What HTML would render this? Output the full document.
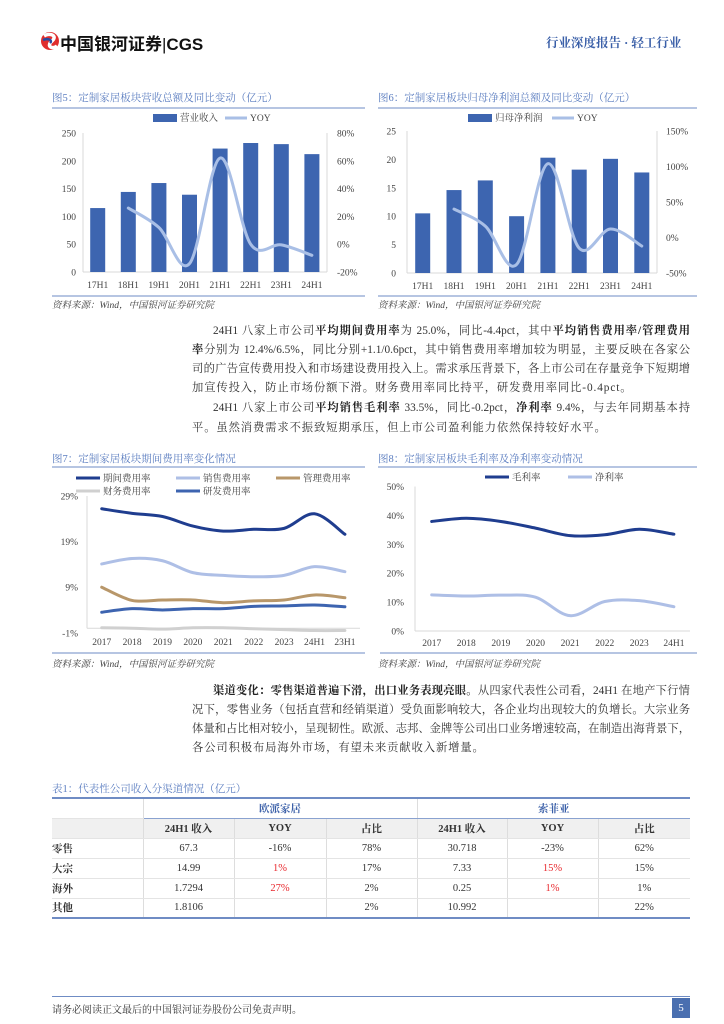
<!DOCTYPE html>
<html><head><meta charset="utf-8">
<style>
*{margin:0;padding:0;box-sizing:border-box}
body{width:724px;height:1024px;background:#fff;position:relative;overflow:hidden;font-family:"Liberation Serif","Noto Serif CJK SC",serif;color:#333}
.abs{position:absolute;white-space:nowrap}
.ttl{font-size:10.5px;color:#5b7dc0;font-family:"Liberation Serif","Noto Serif CJK SC",serif}
.src{font-size:9.5px;color:#444;font-style:italic}
.pl{position:absolute;font-size:11.3px;color:#333;text-align:justify;text-align-last:justify;white-space:nowrap;height:16px;line-height:16px}
.pl.last{text-align-last:left}
b{font-weight:bold;color:#222}
table{border-collapse:collapse;font-size:10.5px}
td{border-left:1px solid #ddd;border-bottom:1px solid #e4e4e4;text-align:center;height:20px;padding:0}
td:first-child{border-left:none;text-align:left;font-weight:bold}
.red{color:#e8282d}
</style></head><body>
<!-- header -->
<svg class="abs" style="left:40px;top:28px" width="20" height="26"><circle cx="10" cy="13" r="9" fill="#e02d2d"/><path d="M4 8 C10 4 18 8 12 13 C6 18 12 22 17 18" stroke="#fff" stroke-width="3.5" fill="none"/><path d="M3 12 C8 10 13 12 10 15" stroke="#2a4aa0" stroke-width="2.5" fill="none"/></svg>
<div class="abs" style="left:60px;top:30px;font-family:'Liberation Sans','Noto Sans CJK SC',sans-serif;font-weight:bold;font-size:17px;color:#111">中国银河证券<span style="font-weight:normal">|</span>CGS</div>
<div class="abs" style="left:546px;top:33px;font-size:12.5px;color:#3a5fa8;font-weight:bold">行业深度报告 · 轻工行业</div>

<!-- chart titles -->
<div class="abs ttl" style="left:52px;top:90px">图5：定制家居板块营收总额及同比变动（亿元）</div>
<div class="abs ttl" style="left:378px;top:90px">图6：定制家居板块归母净利润总额及同比变动（亿元）</div>
<div class="abs src" style="left:52px;top:297px">资料来源：Wind，中国银河证券研究院</div>
<div class="abs src" style="left:378px;top:297px">资料来源：Wind，中国银河证券研究院</div>
<div class="abs ttl" style="left:52px;top:451px">图7：定制家居板块期间费用率变化情况</div>
<div class="abs ttl" style="left:378px;top:451px">图8：定制家居板块毛利率及净利率变动情况</div>
<div class="abs src" style="left:52px;top:656px">资料来源：Wind，中国银河证券研究院</div>
<div class="abs src" style="left:378px;top:656px">资料来源：Wind，中国银河证券研究院</div>

<!-- paragraph 1 -->
<div>
<div class="pl" style="left:213px;top:323px;width:477px">24H1 八家上市公司<b>平均期间费用率</b>为 25.0%，同比-4.4pct，其中<b>平均销售费用率/管理费用</b></div>
<div class="pl" style="left:192px;top:342px;width:498px"><b>率</b>分别为 12.4%/6.5%，同比分别+1.1/0.6pct，其中销售费用率增加较为明显，主要反映在各家公</div>
<div class="pl" style="left:192px;top:361px;width:498px">司的广告宣传费用投入和市场建设费用投入上。需求承压背景下，各上市公司在存量竞争下短期增</div>
<div class="pl last" style="left:192px;top:380px;letter-spacing:0.9px">加宣传投入，防止市场份额下滑。财务费用率同比持平，研发费用率同比-0.4pct。</div>
<div class="pl" style="left:213px;top:400px;width:477px">24H1 八家上市公司<b>平均销售毛利率</b> 33.5%，同比-0.2pct，<b>净利率</b> 9.4%，与去年同期基本持</div>
<div class="pl last" style="left:192px;top:420px;letter-spacing:0.9px">平。虽然消费需求不振致短期承压，但上市公司盈利能力依然保持较好水平。</div>
</div>

<!-- paragraph 2 -->
<div>
<div class="pl" style="left:213px;top:683px;width:477px"><b>渠道变化：零售渠道普遍下滑，出口业务表现亮眼。</b>从四家代表性公司看，24H1 在地产下行情</div>
<div class="pl" style="left:192px;top:702px;width:498px">况下，零售业务（包括直营和经销渠道）受负面影响较大，各企业均出现较大的负增长。大宗业务</div>
<div class="pl" style="left:192px;top:721px;width:498px">体量和占比相对较小，呈现韧性。欧派、志邦、金牌等公司出口业务增速较高，在制造出海背景下，</div>
<div class="pl last" style="left:192px;top:740px;letter-spacing:0.9px">各公司积极布局海外市场，有望未来贡献收入新增量。</div>
</div>

<!-- table -->
<div class="abs ttl" style="left:52px;top:781px">表1：代表性公司收入分渠道情况（亿元）</div>
<table class="abs" style="left:52px;top:797px;width:638px;border-top:2px solid #6f8cc4;border-bottom:2px solid #6f8cc4">
<colgroup><col style="width:91px"><col style="width:91px"><col style="width:92px"><col style="width:91px"><col style="width:90px"><col style="width:91px"><col style="width:92px"></colgroup>
<tr style="border-bottom:1.5px solid #8aa2d0"><td></td><td colspan="3" style="color:#3a5fa8;font-weight:bold;border-bottom:1.5px solid #8aa2d0">欧派家居</td><td colspan="3" style="color:#3a5fa8;font-weight:bold;border-bottom:1.5px solid #8aa2d0">索菲亚</td></tr>
<tr style="background:#f0f0f0;font-weight:bold"><td></td><td>24H1 收入</td><td>YOY</td><td>占比</td><td>24H1 收入</td><td>YOY</td><td>占比</td></tr>
<tr><td>零售</td><td>67.3</td><td>-16%</td><td>78%</td><td>30.718</td><td>-23%</td><td>62%</td></tr>
<tr><td>大宗</td><td>14.99</td><td class="red">1%</td><td>17%</td><td>7.33</td><td class="red">15%</td><td>15%</td></tr>
<tr><td>海外</td><td>1.7294</td><td class="red">27%</td><td>2%</td><td>0.25</td><td class="red">1%</td><td>1%</td></tr>
<tr><td>其他</td><td>1.8106</td><td></td><td>2%</td><td>10.992</td><td></td><td>22%</td></tr>
</table>

<!-- footer -->
<div class="abs" style="left:52px;top:996px;width:638px;height:1px;background:#6f8cc4"></div>
<div class="abs" style="left:52px;top:1001px;font-size:10px;color:#333">请务必阅读正文最后的中国银河证券股份公司免责声明。</div>
<div class="abs" style="left:672px;top:998px;width:18px;height:20px;background:#4a6fb0;color:#fff;font-size:11px;text-align:center;line-height:20px">5</div>

<svg id="charts" class="abs" style="left:0;top:0" width="724" height="1024" font-family="Liberation Serif, Noto Serif CJK SC, serif" font-size="9.5" fill="#444"></svg>

<script>
// Fig5 data
const c5Cats = ["17H1","18H1","19H1","20H1","21H1","22H1","23H1","24H1"];
const c5Rev = [115,144,160,139,222,232,230,212];
const c5Yoy = [null,26,12,-14,62,0,-0.5,-8];
const c5LeftTicks = [0,50,100,150,200,250];
const c5RightTicks = [-20,0,20,40,60,80];
// Fig6 data
const c6Cats = ["17H1","18H1","19H1","20H1","21H1","22H1","23H1","24H1"];
const c6Profit = [10.5,14.6,16.3,10.0,20.3,18.2,20.1,17.7];
const c6Yoy = [null,40,16,-38,104,-15,12,-12];
const c6LeftTicks = [0,5,10,15,20,25];
const c6RightTicks = [-50,0,50,100,150];
// Fig7 data
const c7Cats = ["2017","2018","2019","2020","2021","2022","2023","24H1","23H1"];
const c7Period = [26.2,25.2,24.5,22.4,21.3,21.7,21.9,25.1,20.6];
const c7Sales = [14.1,15.3,14.8,12.2,11.6,11.3,11.6,13.5,12.4];
const c7Admin = [9.0,6.1,6.2,6.2,5.6,6.0,6.2,7.3,6.7];
const c7Fin = [0.1,0.0,-0.2,0.1,0.1,-0.1,-0.3,-0.5,-0.5];
const c7RD = [3.5,4.3,4.0,4.3,4.3,4.8,4.9,5.1,4.7];
const c7Ticks = [-1,9,19,29];
// Fig8 data
const c8Cats = ["2017","2018","2019","2020","2021","2022","2023","24H1"];
const c8Gross = [37.9,39.0,37.9,35.6,33.0,33.3,35.2,33.5];
const c8Net = [12.5,12.1,12.4,11.7,5.3,10.2,10.5,8.4];
const c8Ticks = [0,10,20,30,40,50];

const svg = document.getElementById('charts');
const NS = 'http://www.w3.org/2000/svg';
function mk(tag, attrs, parent){const e=document.createElementNS(NS,tag);for(const k in attrs)e.setAttribute(k,attrs[k]);(parent||svg).appendChild(e);return e;}
function txt(x,y,s,anchor,parent,extra){const t=mk('text',Object.assign({x:x,y:y,'text-anchor':anchor||'start'},extra||{}),parent);t.textContent=s;return t;}
function smooth(pts){let d='M'+pts[0][0]+' '+pts[0][1];for(let i=0;i<pts.length-1;i++){const p0=pts[i-1]||pts[i],p1=pts[i],p2=pts[i+1],p3=pts[i+2]||p2;const c1x=p1[0]+(p2[0]-p0[0])/6,c1y=p1[1]+(p2[1]-p0[1])/6,c2x=p2[0]-(p3[0]-p1[0])/6,c2y=p2[1]-(p3[1]-p1[1])/6;d+=' C'+c1x+' '+c1y+' '+c2x+' '+c2y+' '+p2[0]+' '+p2[1];}return d;}
function hline(x1,x2,y,c,w){mk('line',{x1:x1,x2:x2,y1:y,y2:y,stroke:c,'stroke-width':w||1});}
function vline(x,y1,y2,c){mk('line',{x1:x,x2:x,y1:y1,y2:y2,stroke:c,'stroke-width':1});}

// rules
hline(52,365,108,'#8aa2d0',1.2);hline(378,697,108,'#8aa2d0',1.2);
hline(52,365,296,'#8aa2d0',1.2);hline(378,697,296,'#8aa2d0',1.2);
hline(52,365,467,'#8aa2d0',1.2);hline(378,697,467,'#8aa2d0',1.2);
hline(52,365,653,'#8aa2d0',1.2);hline(380,697,653,'#8aa2d0',1.2);

function barLineChart(o){
  const g=mk('g',{});
  
  
  const yL=v=>o.y0-(v-o.lMin)/(o.lMax-o.lMin)*(o.y0-o.y1);
  const yR=v=>o.y0-(v-o.rMin)/(o.rMax-o.rMin)*(o.y0-o.y1);
  const x=i=>o.x0+i*o.dx;
  mk('line',{x1:o.pl,x2:o.pl,y1:o.y1,y2:o.y0,stroke:'#d9d9d9'},g);
  mk('line',{x1:o.pr,x2:o.pr,y1:o.y1,y2:o.y0,stroke:'#d9d9d9'},g);
  mk('line',{x1:o.pl,x2:o.pr,y1:o.y0,y2:o.y0,stroke:'#d9d9d9'},g);
  o.lt.forEach(v=>{const t=txt(o.lx,yL(v)+3.5,String(v),'end',g);});
  o.rt.forEach(v=>{const t=txt(o.rx,yR(v)+3.5,v+'%','start',g);});
  o.cats.forEach((c,i)=>{const t=txt(x(i),o.y0+16,c,'middle',g);});
  o.bars.forEach((v,i)=>{const r=mk('rect',{x:x(i)-7.5,y:yL(v),width:15,height:o.y0-yL(v),fill:'#3d65b0'},g);});
  const pts=[];o.line.forEach((v,i)=>{if(v!==null)pts.push([x(i),yR(v)]);});
  const p=mk('path',{d:smooth(pts),fill:'none',stroke:'#a9bfe6','stroke-width':3,'stroke-linecap':'round'},g);
  
  // legend
  const lr=mk('rect',{x:o.lg[0],y:114,width:24,height:8,fill:'#3d65b0'},g);
  
  txt(o.lg[0]+27,121,o.barLabel,'start',g);
  mk('line',{x1:o.lg[1],x2:o.lg[1]+22,y1:118,y2:118,stroke:'#a9bfe6','stroke-width':3},g);
  txt(o.lg[1]+25,121,'YOY','start',g);
}
barLineChart({name:'fig5-chart',cats:c5Cats,bars:c5Rev,line:c5Yoy,lt:c5LeftTicks,rt:c5RightTicks,lMin:0,lMax:250,rMin:-20,rMax:80,y0:272,y1:133,x0:97.7,dx:30.6,pl:83,pr:327,lx:76,rx:337,lg:[153,225],barLabel:'营业收入'});
barLineChart({name:'fig6-chart',cats:c6Cats,bars:c6Profit,line:c6Yoy,lt:c6LeftTicks,rt:c6RightTicks,lMin:0,lMax:25,rMin:-50,rMax:150,y0:273,y1:131,x0:422.7,dx:31.3,pl:407,pr:657,lx:396,rx:666,lg:[468,552],barLabel:'归母净利润'});

function lineChart(o){
  const g=mk('g',{});
  
  
  const y=v=>o.yTop-(v-o.vTop)*o.k;
  const x=i=>o.x0+i*o.dx;
  mk('line',{x1:o.pl,x2:o.pl,y1:o.yTop,y2:y(o.base),stroke:'#d9d9d9'},g);
  mk('line',{x1:o.pl,x2:o.pr,y1:y(o.base),y2:y(o.base),stroke:'#d9d9d9'},g);
  o.ticks.forEach(v=>{const t=txt(o.lx,y(v)+3.5,v+'%','end',g);});
  o.cats.forEach((c,i)=>{const t=txt(x(i),o.xly,c,'middle',g);});
  o.series.forEach(s=>{
    const p=mk('path',{d:smooth(s.data.map((v,i)=>[x(i),y(v)])),fill:'none',stroke:s.color,'stroke-width':3,'stroke-linecap':'round'},g);
    
    const l=mk('line',{x1:s.lx,x2:s.lx+24,y1:s.ly,y2:s.ly,stroke:s.color,'stroke-width':3},g);
    
    txt(s.lx+27,s.ly+3.5,s.label,'start',g);
  });
}
lineChart({name:'fig7-chart',cats:c7Cats,ticks:c7Ticks,yTop:496,vTop:29,k:4.56,base:0,x0:101.7,dx:30.4,pl:87,pr:360,lx:78,xly:645,
  series:[
   {key:'fin',data:c7Fin,color:'#d0d0d0',label:'财务费用率',lx:76,ly:491},
   {key:'rd',data:c7RD,color:'#3d64b0',label:'研发费用率',lx:176,ly:491},
   {key:'admin',data:c7Admin,color:'#b8976a',label:'管理费用率',lx:276,ly:478},
   {key:'sales',data:c7Sales,color:'#aebfe6',label:'销售费用率',lx:176,ly:478},
   {key:'period',data:c7Period,color:'#1f3d8f',label:'期间费用率',lx:76,ly:478}
  ]});
lineChart({name:'fig8-chart',cats:c8Cats,ticks:c8Ticks,yTop:486.5,vTop:50,k:2.89,base:0,x0:431.7,dx:34.6,pl:415,pr:690,lx:404,xly:646,
  series:[
   {key:'net-margin',data:c8Net,color:'#aebfe6',label:'净利率',lx:568,ly:477},
   {key:'gross-margin',data:c8Gross,color:'#1f3d8f',label:'毛利率',lx:485,ly:477}
  ]});
</script>
</body></html>
